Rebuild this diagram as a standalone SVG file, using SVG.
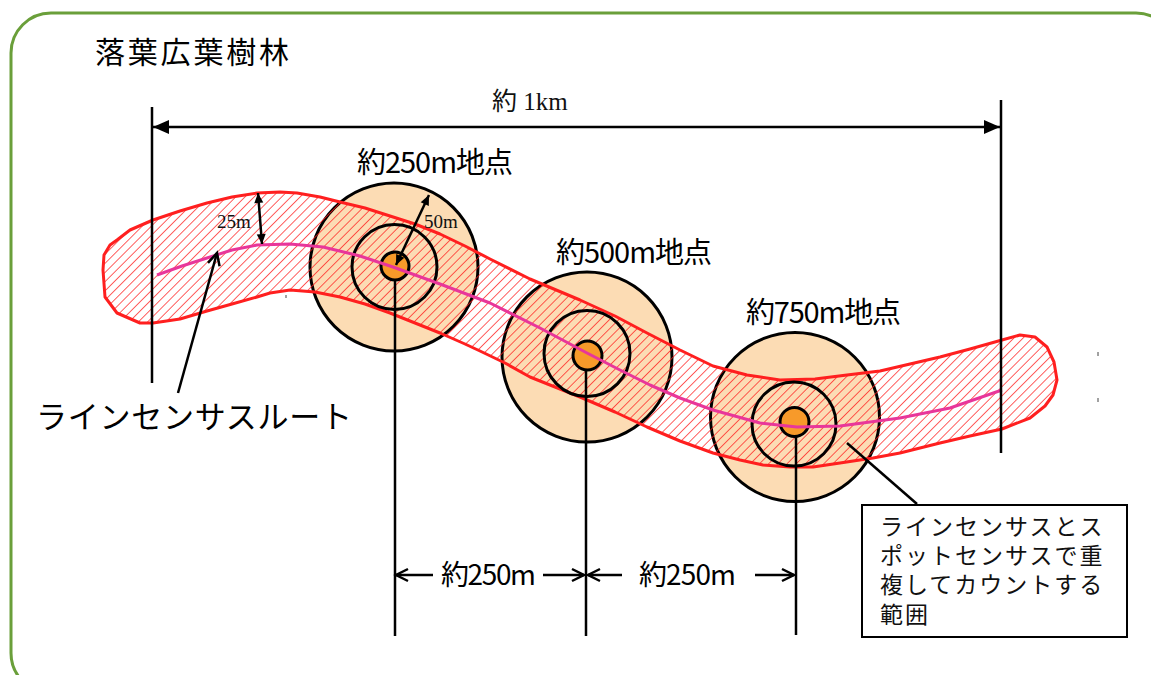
<svg xmlns="http://www.w3.org/2000/svg" width="1151" height="675" viewBox="0 0 1151 675">
<defs>
<style>
.sans{font-family:"Noto Sans CJK JP","Noto Sans",sans-serif;fill:#000}
.serif{font-family:"Liberation Serif","Noto Sans CJK JP",serif;fill:#111}
.ln{stroke:#000;stroke-width:2.5;fill:none}
.outer{fill:#fcdcb4;stroke:#000;stroke-width:3}
.inner{fill:none;stroke:#000;stroke-width:3}
.dot{fill:#f79a2a;stroke:#000;stroke-width:3}
</style>
<pattern id="hatch" patternUnits="userSpaceOnUse" width="6.5" height="10" patternTransform="rotate(45)">
<line x1="0" y1="0" x2="0" y2="10" stroke="#ff1a1a" stroke-width="1.4"/>
</pattern>
<marker id="tri" markerUnits="userSpaceOnUse" markerWidth="16" markerHeight="14" refX="16" refY="7" orient="auto-start-reverse" overflow="visible">
<path d="M0,0 L16,7 L0,14 Z" fill="#000"/>
</marker>
<marker id="tris" markerUnits="userSpaceOnUse" markerWidth="10" markerHeight="9" refX="10" refY="4.5" orient="auto-start-reverse" overflow="visible">
<path d="M0,0 L10,4.5 L0,9 Z" fill="#000"/>
</marker>
<marker id="open" markerUnits="userSpaceOnUse" markerWidth="12" markerHeight="12" refX="12" refY="6" orient="auto-start-reverse" overflow="visible">
<path d="M0,0 L12,6 L0,12" fill="none" stroke="#000" stroke-width="2.5"/>
</marker>
</defs>

<rect id="frame" x="11" y="13" width="1165" height="680" rx="40" fill="#fff" stroke="#6a9f3a" stroke-width="3"/>

<text id="title" class="sans" x="95" y="63" font-size="30" textLength="194">落葉広葉樹林</text>

<g id="circles">
<g id="spot250">
<circle class="outer" cx="394" cy="267" r="84"/>
</g>
<g id="spot500">
<circle class="outer" cx="587" cy="357" r="85"/>
</g>
<g id="spot750">
<circle class="outer" cx="795" cy="417" r="84.5"/>
</g>
</g>

<g id="band">
<path d="M103,270 L104,255 L110,245 L117,240 L130,230 L153,220 L180,211 L207,203 L232,197 L257,193 L280,192 L297,193 L320,197 L340,202 L365,208 L390,216 L415,224 L440,234 L465,246 L490,259 L530,279 L580,300 L615,316 L647,333 L680,350 L713,366 L747,375 L780,380 L815,379 L847,375 L880,371 L910,364 L940,357 L970,349 L1002,340 L1020,335 L1035,337 L1047,347 L1054,362 L1057,380 L1053,395 L1045,406 L1030,418 L1002,429 L970,436 L940,443 L900,453 L873,458 L840,463 L813,467 L790,467 L763,465 L740,460 L713,453 L680,441 L647,427 L615,412 L580,397 L555,387 L530,377 L505,363 L480,351 L465,344 L440,333 L415,323 L390,313 L365,304 L340,297 L315,292 L290,290 L270,293 L257,297 L232,304 L207,311 L180,319 L153,323 L140,323 L117,313 L105,297 Z" fill="url(#hatch)" stroke="#ff1f1f" stroke-width="3" stroke-linejoin="round"/>
</g>

<g id="inner-rings">
<circle class="inner" cx="394.5" cy="267" r="42.5"/>
<circle class="inner" cx="587" cy="353.5" r="43"/>
<circle class="inner" cx="794" cy="424" r="42"/>
<circle class="dot" cx="395" cy="266" r="14"/>
<circle class="dot" cx="587.5" cy="355.5" r="14.5"/>
<circle class="dot" cx="794.5" cy="422" r="14.5"/>
</g>

<g id="route">
<path d="M157,275 L182,266 L207,258 L232,250 L257,245 L290,244 L323,247 L360,256 L393,267 L440,284 L490,303 L540,328 L587,353 L620,370 L650,385 L680,398 L713,410 L760,423 L797,427 L840,426 L900,418 L950,408 L1002,390" fill="none" stroke="#e8369a" stroke-width="3" stroke-linejoin="round"/>
</g>

<g id="connectors">
<line class="ln" x1="152" y1="107" x2="152" y2="383"/>
<line class="ln" x1="1001" y1="100" x2="1001" y2="453"/>
<line class="ln" x1="153" y1="127" x2="1000" y2="127" marker-start="url(#tri)" marker-end="url(#tri)"/>
<line class="ln" x1="395" y1="280" x2="395" y2="636"/>
<line class="ln" x1="586" y1="370" x2="586" y2="636"/>
<line class="ln" x1="796" y1="437" x2="796" y2="635"/>
<line class="ln" x1="258" y1="193" x2="262" y2="244" stroke-width="2" marker-start="url(#tris)" marker-end="url(#tris)"/>
<line class="ln" x1="396" y1="265" x2="429" y2="195" stroke-width="2" marker-start="url(#tris)" marker-end="url(#tris)"/>
<line class="ln" x1="178" y1="393" x2="217" y2="253" marker-end="url(#open)"/>
<line class="ln" x1="396" y1="575" x2="433" y2="575" marker-start="url(#open)"/>
<line class="ln" x1="543" y1="575" x2="584" y2="575" marker-end="url(#open)"/>
<line class="ln" x1="588" y1="575" x2="622" y2="575" marker-start="url(#open)"/>
<line class="ln" x1="755" y1="575" x2="794" y2="575" marker-end="url(#open)"/>
<line class="ln" x1="847" y1="443" x2="917" y2="504" stroke-width="2.5"/>
<line x1="286" y1="295" x2="286" y2="298" stroke="#444" stroke-width="1"/>
<line x1="1098" y1="352" x2="1098" y2="356" stroke="#444" stroke-width="1"/>
<line x1="1098" y1="398" x2="1098" y2="402" stroke="#444" stroke-width="1"/>
</g>

<g id="labels">
<text class="serif" x="492" y="110" font-size="25">約 1km</text>
<text class="sans" x="357" y="173" font-size="29" textLength="156">約250m地点</text>
<text class="sans" x="556" y="263" font-size="29" textLength="156">約500m地点</text>
<text class="sans" x="746" y="323" font-size="29" textLength="155">約750m地点</text>
<text class="serif" x="217" y="228" font-size="19">25m</text>
<text class="serif" x="424" y="228" font-size="19">50m</text>
<text class="sans" x="36" y="428" font-size="31" textLength="316">ラインセンサスルート</text>
<text class="sans" x="441" y="585" font-size="28" textLength="95">約250m</text>
<text class="sans" x="639" y="585" font-size="28" textLength="97">約250m</text>
</g>

<g id="callout">
<rect x="862" y="505" width="265" height="132" fill="#fff" stroke="#000" stroke-width="2"/>
<text class="serif" font-size="23" letter-spacing="2">
<tspan x="880" y="535">ラインセンサスとス</tspan>
<tspan x="880" y="564">ポットセンサスで重</tspan>
<tspan x="880" y="593">複してカウントする</tspan>
<tspan x="880" y="623">範囲</tspan>
</text>
</g>
</svg>
